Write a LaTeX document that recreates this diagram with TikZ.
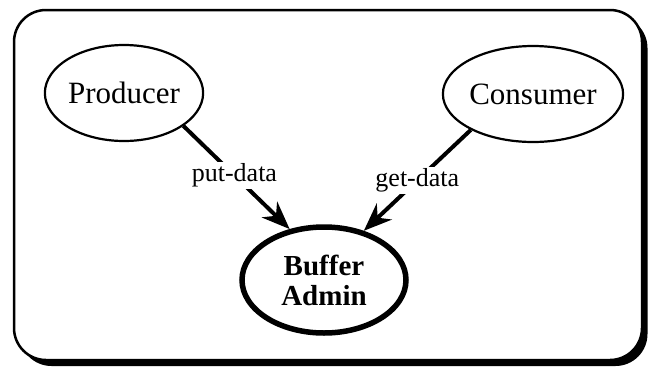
\documentclass[tikz,border=0pt]{standalone}
\usepackage{fontspec}
\setmainfont{Liberation Serif}
\usetikzlibrary{arrows.meta,shapes.geometric,shadows}

\begin{document}
\begin{tikzpicture}[x=1pt,y=-1pt,
  proc/.style={ellipse,draw,line width=2.2pt,minimum width=158pt,minimum height=96pt,inner sep=0pt,
    font=\fontsize{31}{33}\selectfont},
  admin/.style={ellipse,draw,line width=5.5pt,minimum width=164pt,minimum height=106pt,inner sep=0pt,
    align=center,font=\fontsize{29}{30}\selectfont\bfseries},
  flow/.style={line width=4pt,-{Stealth[length=28pt,width=22pt,inset=9pt]}},
  lbl/.style={fill=white,inner sep=1.5pt,font=\fontsize{26}{28}\selectfont}]
\useasboundingbox (0,0) rectangle (651,370);
% frame with its heavy lower right edge
\draw[line width=2.5pt,rounded corners=32pt,fill=white,
  drop shadow={opacity=1,fill=black,shadow xshift=5.5pt,shadow yshift=-6pt}]
  (14,10) rectangle (642,360);
\node[proc] (prod) at (124,93) {Producer};
\node[proc] (cons) at (533,94) {Consumer};
\node[admin] (buf) at (324,280) {Buffer\\Admin};
\draw[flow] (prod.-29) -- node[lbl,pos=0.48] {put-data} (buf.124);
\draw[flow] (cons.210) -- node[lbl,pos=0.5] {get-data} (buf.51);
\end{tikzpicture}
\end{document}
